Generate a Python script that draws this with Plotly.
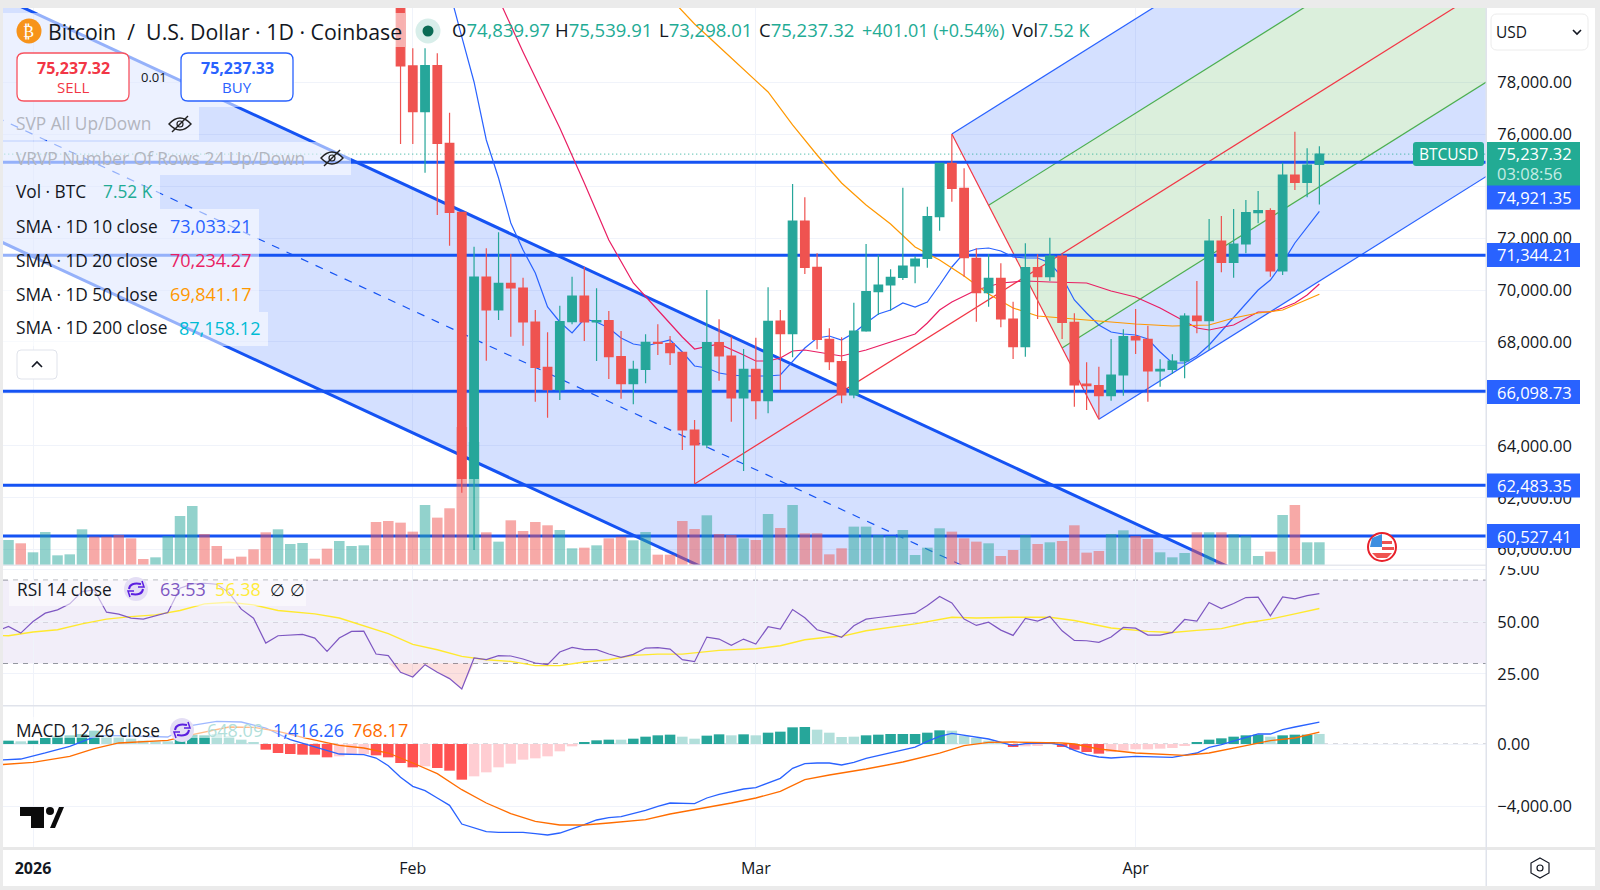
import numpy as np
import pandas as pd
import plotly.graph_objects as go

FONT = "Open Sans"
W, H = 1600, 890
TEAL = "#26a69a"
RED = "#ef5350"
BLUE = "#2962ff"
LINE_BLUE = "#1553f3"
DARK = "#131722"

# candles, Jan 31 -> Apr 16
candle_open = [84100, 78632, 76873, 78645, 75653, 72995, 62748, 70503, 69232, 70259, 70080, 68770, 67024, 66163, 68783,
               69772, 68770, 68822, 67435, 66395, 66947, 67987, 67935, 67602, 64610, 64032, 67974, 67460, 65842, 66947,
               65740, 68809, 68321, 72660, 70876, 68102, 67242, 65958, 68423, 69938, 70195, 70490, 70927, 71222, 72827,
               74882, 73919, 71222, 69900, 70452, 68885, 67820, 70863, 70516, 71312, 68757, 66382, 66318, 65933, 66729,
               68206, 68103, 66883, 66947, 67268, 69002, 68822, 71891, 71069, 71775, 72982, 73059, 70735, 74433, 74151,
               74839.97]
candle_high = [84200, 79312, 79312, 79120, 76834, 72995, 71672, 71608, 72224, 71389, 70478, 69232, 68372, 69399, 70516,
               70901, 70067, 69194, 68423, 67281, 68295, 68680, 68231, 67602, 64995, 70003, 68873, 68205, 67730, 68167,
               70105, 69232, 74086, 73572, 71415, 68526, 68179, 69515, 71775, 71351, 70799, 73944, 71312, 73213, 74882,
               76012, 74689, 71608, 71376, 71030, 69553, 71800, 71376, 72018, 71389, 69104, 67217, 67050, 68116, 68488,
               69271, 68629, 67332, 67525, 69104, 70350, 72738, 72854, 73123, 73470, 73817, 73149, 74908, 76102, 75460,
               75539.91]
candle_low = [75627, 75627, 74523, 72892, 71711, 62195, 59988, 67281, 68847, 68205, 67858, 65701, 65085, 65765, 68680,
              68038, 67268, 66574, 65817, 65598, 66407, 67499, 67114, 63840, 62530, 63903, 66510, 64931, 63030, 65021,
              65252, 66151, 67409, 70619, 67717, 66921, 65637, 65830, 68398, 69040, 69206, 70388, 70259, 70863, 72288,
              73405, 70516, 68783, 69361, 68565, 67345, 67435, 68885, 70349, 68115, 65509, 65381, 65021, 65740, 65933,
              67538, 65702, 66280, 66768, 66601, 68334, 67692, 70684, 70478, 71416, 72571, 70517, 70581, 73855, 73573,
              73298.01]
candle_close = [78632, 76873, 78645, 75653, 72995, 62748, 70503, 69232, 70259, 70080, 68770, 67024, 66163, 68783, 69772,
                68770, 68822, 67435, 66395, 66947, 67987, 67948, 67589, 64610, 64032, 67974, 67460, 65842, 66947, 65740,
                68796, 68321, 72660, 70876, 68102, 67242, 65958, 68423, 69938, 70195, 70490, 70927, 71197, 72827, 74882,
                73919, 71248, 69900, 70452, 68885, 67820, 70863, 70516, 71312, 68757, 66344, 66318, 65933, 66729, 68206,
                68077, 66883, 66947, 67268, 69002, 68822, 71891, 71069, 71775, 72982, 73059, 70735, 74433, 74151, 74818,
                75237.32]

# volume in BTC, Dec 30 -> Apr 16
volume = [8280, 7180, 4200, 10930, 3200, 3530, 11810, 9380, 9380, 9940, 8830, 1990, 2540, 9600, 16230, 19540, 10270,
          6290, 2100, 2760, 5190, 10820, 11810, 6960, 7290, 2100, 5410, 7950, 6290, 6510, 14240, 14570, 14020, 11040,
          19870, 15680, 18770, 45700, 40700, 10820, 7730, 14790, 11260, 14240, 13140, 11590, 5520, 5740, 6510, 8830,
          9380, 8170, 10930, 3420, 3420, 14570, 11920, 16450, 10270, 9940, 8830, 8280, 16890, 12250, 19870, 10490,
          10490, 3530, 5520, 12700, 12700, 9940, 9600, 11590, 3310, 5740, 12140, 11040, 8830, 7730, 7180, 2980, 4970,
          9940, 6960, 7510, 7950, 13140, 4090, 4640, 10270, 11480, 9600, 8610, 4200, 2540, 3970, 10820, 10820, 10820,
          10160, 9720, 2980, 4420, 16560, 19870, 7510, 7520]
volume_side = ("trtttttrrr" "rrttttrrrr" "rrtttrrttt" "rrrrtrrrt" "rtrrrrttrt" "rrttrrr"
               "rtrrtrtrtr" "rrrttttttt" "trrrtrrtrt" "rrrrttrrtt" "trtrtttrtr" "tt")

# moving averages (day number counted from Jan 1)
sma10_days = list(range(33, 106))
sma10 = [82137, 81521, 79749, 78015, 75781, 74317, 72584, 71544, 70658, 69348, 68770, 68347, 68886, 68770, 68539,
         68154, 67923, 67846, 67961, 68077, 67615, 67076, 66998, 66806, 66729, 66690, 66690, 66690, 66729, 67230,
         67769, 68154, 68231, 68077, 68347, 68732, 69079, 69233, 69502, 69348, 69541, 70196, 70889, 71428, 71582,
         71621, 71505, 71274, 71236, 71236, 71043, 70504, 69618, 69117, 68655, 68385, 68308, 68270, 68116, 67615,
         67191, 67191, 67461, 67884, 68424, 68963, 69502, 70003, 70388, 71043, 71813, 72430, 73033.21]
sma20_days = [37, 40, 43, 45, 47, 49, 51, 53, 54, 56, 58, 59, 60, 61, 62, 63, 64, 66, 68, 71, 72, 73, 74, 75, 77, 79,
              81, 83, 86, 88, 90, 92, 94, 95, 96, 98, 100, 101, 102, 103, 104, 105]
sma20 = [82252, 79171, 76243, 74125, 71929, 70273, 69233, 68193, 67730, 67923, 67499, 67268, 67268, 67384, 67653,
         67692, 67615, 67461, 67692, 68154, 68308, 68732, 69233, 69541, 70003, 70273, 70350, 70311, 70273, 69965,
         69733, 69310, 68809, 68539, 68462, 68655, 69156, 69156, 69310, 69502, 69810, 70234.27]
sma50_days = [52, 54, 57, 60, 62, 64, 66, 68, 70, 72, 74, 76, 78, 80, 82, 84, 87, 90, 93, 96, 98, 100, 102, 104, 105]
sma50 = [81251, 80249, 78940, 77630, 76359, 75203, 74125, 73277, 72545, 71659, 71159, 70542, 69849, 69310, 69002,
         68924, 68809, 68693, 68616, 68655, 68924, 69117, 69233, 69618, 69841.17]

hlines = [74921.35, 71344.21, 66098.73, 62483.35, 60527.41]
last_price = 75237.32

# drawings, as (day number, price)
channel_upper = [(0, 80704), (100, 58809)]
channel_mid = [(0, 76000), (100, 54105)]
channel_lower = [(0, 71286), (100, 49391)]
fork_a = (54, 62530)
fork_b = (75, 76012)
fork_c = (87, 65021)

# RSI, Dec 29 -> Apr 16
rsi = [45.4, 47.77, 44.58, 50.16, 54.14, 55.73, 58.6, 64.5, 65.29, 54.62, 53.66, 51.75, 51.27, 52.86, 54.46, 66.09,
       68.16, 68.48, 68.0, 64.02, 56.05, 51.75, 39.8, 43.31, 43.78, 43.94, 42.19, 35.82, 42.19, 45.38, 45.54, 34.55,
       33.75, 25.78, 23.55, 29.45, 25.78, 22.76, 17.82, 32.63, 31.84, 33.75, 33.59, 32.16, 30.25, 29.45, 35.5, 37.73,
       36.62, 36.62, 34.55, 32.95, 34.39, 37.41, 37.57, 36.94, 31.84, 30.88, 42.67, 41.71, 38.69, 41.71, 39.33, 47.61,
       46.49, 55.89, 51.91, 46.17, 44.58, 42.51, 48.09, 51.27, 52.07, 52.86, 53.5, 54.14, 57.8, 62.1, 59.08, 51.27,
       48.25, 49.84, 46.02, 43.47, 51.59, 50.32, 52.55, 45.7, 41.08, 40.92, 40.12, 42.67, 47.29, 46.97, 43.62, 43.62,
       44.9, 51.11, 50.32, 59.24, 56.37, 58.76, 61.63, 61.79, 52.86, 61.95, 61.0, 62.58, 63.53]
rsi_ma_days = [-3, -2, 0, 2, 4, 6, 8, 10, 12, 14, 16, 18, 20, 23, 25, 27, 29, 31, 33, 35, 37, 39, 41, 43, 45, 47, 49,
               51, 53, 56, 59, 61, 63, 65, 66, 68, 70, 72, 75, 77, 80, 83, 85, 88, 91, 93, 95, 97, 99, 101, 103, 105]
rsi_ma = [43.5, 43.3, 45.1, 46.2, 49.0, 51.3, 52.5, 53.3, 55.4, 58.6, 59.4, 58.1, 55.4, 53.8, 51.8, 48.2, 44.3, 39.2,
          36.6, 33.4, 31.8, 31.0, 29.0, 29.0, 30.7, 31.8, 33.9, 34.5, 34.5, 36.3, 37.1, 38.5, 41.4, 42.7, 43.0, 45.7,
          47.3, 49.0, 52.2, 51.8, 52.2, 52.2, 50.6, 47.0, 45.4, 44.9, 45.9, 46.7, 49.4, 51.3, 53.8, 56.38]

# MACD, histogram Dec 30 -> Apr 16
macd_hist = [215, 172, 215, 387, 495, 559, 645, 860, 495, 495, 344, 215, 172, 172, 495, 602, 559, 645, 495, 280, 65,
             -366, -581, -645, -688, -688, -860, -796, -688, -645, -731, -860, -1226, -1505, -1441, -1548, -1720,
             -2301, -2086, -1828, -1505, -1269, -1011, -925, -796, -473, -151, 65, 237, 280, 280, 344, 473, 559, 602,
             473, 344, 538, 624, 559, 624, 559, 731, 796, 1075, 1097, 925, 731, 452, 473, 559, 602, 645, 645, 645,
             731, 882, 860, 538, 387, 215, 108, -194, -151, -108, 65, -194, -366, -516, -624, -516, -430, -344, -344,
             -301, -258, -86, 65, 280, 366, 473, 559, 602, 473, 559, 602, 602, 648.09]
hist_strong = [1, 0, 1, 1, 1, 1, 1, 1, 0, 0, 0, 0, 0, 0, 1, 1, 1, 0, 0, 0, 0,
               1, 1, 1, 1, 1, 1, 0, 0, 0, 1, 1, 1, 1, 0, 1, 1, 1, 0, 0, 0, 0, 0, 0, 0, 0, 0,
               1, 1, 1, 0, 1, 1, 1, 1, 0, 0, 1, 1, 0, 1, 0, 1, 1, 1, 1, 0, 0, 0, 0,
               1, 1, 1, 1, 1, 1, 1, 0, 0, 0, 0, 0, 1, 0, 0, 1, 1, 1, 1, 1,
               0, 0, 0, 0, 0, 0, 0, 1, 1, 1, 1, 1, 1, 0, 1, 1, 1, 0]
macd_days = [-3, -1, 1, 3, 5, 6, 11, 12, 13, 15, 17, 19, 21, 23, 25, 27, 28, 29, 30, 31, 32, 33, 34, 35, 36, 37, 38,
             40, 41, 42, 43, 44, 45, 46, 47, 48, 49, 50, 51, 52, 54, 55, 56, 57, 58, 59, 60, 61, 62, 63, 64, 65, 66,
             67, 68, 69, 71, 72, 73, 74, 75, 77, 78, 80, 81, 83, 84, 85, 86, 87, 88, 90, 93, 95, 96, 97, 99, 100, 101,
             102, 103, 104, 105]
macd_line = [-1054, -968, -580, -150, 452, 559, 452, 882, 1204, 1462, 1419, 1032, 280, -194, -645, -688, -903, -1398,
             -2150, -2731, -3010, -3483, -3956, -5160, -5418, -5655, -5698, -5698, -5784, -5870, -5741, -5483, -5203,
             -4902, -4752, -4687, -4494, -4279, -4021, -3806, -3849, -3483, -3247, -3075, -2903, -2817, -2516, -2215,
             -1570, -1269, -1226, -1226, -1355, -1183, -925, -752, -366, -194, 172, 495, 688, 452, 322, -108, 22, 65,
             -65, -409, -688, -838, -903, -796, -860, -581, -215, -43, 387, 645, 645, 925, 1097, 1247, 1416.26]
signal_days = [-3, 0, 3, 5, 7, 9, 11, 13, 16, 18, 20, 22, 25, 27, 29, 31, 33, 35, 37, 39, 41, 43, 45, 47, 50, 52, 54,
               57, 59, 61, 63, 65, 68, 71, 74, 76, 78, 80, 84, 85, 87, 90, 94, 96, 99, 101, 103, 105]
signal_line = [-1355, -1183, -795, -301, 65, 129, 236, 602, 1097, 1075, 817, 430, -86, -258, -581, -1226, -1914,
               -2946, -3806, -4494, -4988, -5225, -5225, -5096, -4881, -4515, -4236, -3806, -3483, -3053, -2301,
               -2000, -1613, -1161, -581, -108, 108, 129, 65, 0, -322, -581, -731, -581, -108, 215, 387, 768.17]

price_ticks = list(range(60000, 80000, 2000))
price_range = [59410, 80865]
month_ticks = ["2026-01-01", "2026-02-01", "2026-03-01", "2026-04-01"]
month_labels = ["<b>2026</b>", "Feb", "Mar", "Apr"]

JAN1 = pd.Timestamp("2026-01-01")


def day(n):
    return JAN1 + pd.Timedelta(days=n)


def X(px):
    return px / W


def Y(py):
    return 1 - py / H


def rounded(x0, y0, x1, y1, r):
    return (f"M {X(x0 + r)},{Y(y0)} L {X(x1 - r)},{Y(y0)} Q {X(x1)},{Y(y0)} {X(x1)},{Y(y0 + r)} "
            f"L {X(x1)},{Y(y1 - r)} Q {X(x1)},{Y(y1)} {X(x1 - r)},{Y(y1)} L {X(x0 + r)},{Y(y1)} "
            f"Q {X(x0)},{Y(y1)} {X(x0)},{Y(y1 - r)} L {X(x0)},{Y(y0 + r)} Q {X(x0)},{Y(y0)} {X(x0 + r)},{Y(y0)} Z")


def poly(pts, close=True):
    s = "M " + " L ".join(f"{X(a)},{Y(b)}" for a, b in pts)
    return s + (" Z" if close else "")


def box(x0, y0, x1, y1, fill, line=None, width=0, layer="above"):
    return dict(type="rect", xref="paper", yref="paper", x0=X(x0), x1=X(x1), y0=Y(y1), y1=Y(y0),
                fillcolor=fill, line=dict(color=line or "rgba(0,0,0,0)", width=width), layer=layer)


def rbox(x0, y0, x1, y1, r, fill, line=None, width=0):
    return dict(type="path", xref="paper", yref="paper", path=rounded(x0, y0, x1, y1, r), fillcolor=fill,
                line=dict(color=line or "rgba(0,0,0,0)", width=width), layer="above")


def ring(cx, cy, r, fill="rgba(0,0,0,0)", line=None, width=0):
    return dict(type="circle", xref="paper", yref="paper", x0=X(cx - r), x1=X(cx + r), y0=Y(cy + r), y1=Y(cy - r),
                fillcolor=fill, line=dict(color=line or "rgba(0,0,0,0)", width=width), layer="above")


def stroke(pts, color, width=1.5, close=False, fill="rgba(0,0,0,0)"):
    return dict(type="path", xref="paper", yref="paper", path=poly(pts, close), fillcolor=fill,
                line=dict(color=color, width=width), layer="above")


def txt(px, py, text, size=16, color=DARK, anchor="left", family=FONT):
    # annotations carry about 2px of inner padding
    if anchor == "left":
        px -= 2
    return dict(x=X(px), y=Y(py), xref="paper", yref="paper", text=text, showarrow=False, xanchor=anchor,
                yanchor="middle", align=anchor, font=dict(family=family, size=size, color=color))


def eye(cx, cy):
    out = [dict(type="path", xref="paper", yref="paper", layer="above", line=dict(color="#222", width=1.4),
                path=(f"M {X(cx - 11)},{Y(cy)} Q {X(cx)},{Y(cy - 12)} {X(cx + 11)},{Y(cy)} "
                      f"Q {X(cx)},{Y(cy + 12)} {X(cx - 11)},{Y(cy)} Z"))]
    out.append(stroke([(cx - 8, cy + 8), (cx + 8, cy - 8)], "#222", 1.4))
    out.append(ring(cx, cy, 3, line="#222", width=1.2))
    return out


def refresh(cx, cy):
    out = [ring(cx, cy, 12, fill="#e4def5")]
    out.append(dict(type="path", xref="paper", yref="paper", layer="above", line=dict(color="#5b1fe0", width=2),
                    path=(f"M {X(cx - 7)},{Y(cy)} Q {X(cx - 6)},{Y(cy - 7)} {X(cx + 5)},{Y(cy - 5)} "
                          f"M {X(cx + 7)},{Y(cy)} Q {X(cx + 6)},{Y(cy + 7)} {X(cx - 5)},{Y(cy + 5)}")))
    out.append(stroke([(cx + 2, cy - 2), (cx + 8, cy - 2), (cx + 6, cy - 8)], "#5b1fe0", 1.5))
    out.append(stroke([(cx - 2, cy + 2), (cx - 8, cy + 2), (cx - 6, cy + 8)], "#5b1fe0", 1.5))
    return out


def ray(p, q, to_day):
    # extends p->q out to to_day
    slope = (q[1] - p[1]) / (q[0] - p[0])
    return (to_day, p[1] + slope * (to_day - p[0]))


def seg(pts, color, width=1.0, dash=None):
    return go.Scatter(x=[day(a) for a, b in pts], y=[b for a, b in pts], mode="lines", yaxis="y",
                      line=dict(color=color, width=width, dash=dash), hoverinfo="skip", showlegend=False)


def area(pts, fill):
    return go.Scatter(x=[day(a) for a, b in pts], y=[b for a, b in pts], mode="lines", yaxis="y", fill="toself",
                      fillcolor=fill, line=dict(width=0), hoverinfo="skip", showlegend=False)


fig = go.Figure()
x_left, x_right = day(-2.449), day(118.6)
FAR = 130

# descending channel
fig.add_trace(area([(-3, ray(*channel_upper, -3)[1]), (FAR, ray(*channel_upper, FAR)[1]),
                    (FAR, ray(*channel_lower, FAR)[1]), (-3, ray(*channel_lower, -3)[1])], "rgba(41,98,255,0.2)"))

# pitchfork, built from its three points
mid_bc = ((fork_b[0] + fork_c[0]) / 2, (fork_b[1] + fork_c[1]) / 2)
slope = (mid_bc[1] - fork_a[1]) / (mid_bc[0] - fork_a[0])


def on_bc(t):
    return (fork_b[0] + (fork_c[0] - fork_b[0]) * t, fork_b[1] + (fork_c[1] - fork_b[1]) * t)


def fork_end(p):
    return (FAR, p[1] + slope * (FAR - p[0]))


g_up, g_dn = on_bc(0.25), on_bc(0.75)
fig.add_trace(area([fork_b, fork_end(fork_b), fork_end(g_up), g_up], "rgba(41,98,255,0.2)"))
fig.add_trace(area([g_up, fork_end(g_up), fork_end(g_dn), g_dn], "rgba(76,175,80,0.2)"))
fig.add_trace(area([g_dn, fork_end(g_dn), fork_end(fork_c), fork_c], "rgba(41,98,255,0.2)"))
fig.add_trace(seg([fork_b, fork_end(fork_b)], BLUE, 1.2))
fig.add_trace(seg([fork_c, fork_end(fork_c)], BLUE, 1.2))
fig.add_trace(seg([g_up, fork_end(g_up)], "#4caf50", 1.2))
fig.add_trace(seg([g_dn, fork_end(g_dn)], "#4caf50", 1.2))
fig.add_trace(seg([fork_a, fork_end(fork_a)], "#f23645", 1.2))
fig.add_trace(seg([fork_b, fork_c], "#f23645", 1.2))

# channel lines
fig.add_trace(seg([(-3, ray(*channel_upper, -3)[1]), (FAR, ray(*channel_upper, FAR)[1])], LINE_BLUE, 3))
fig.add_trace(seg([(-3, ray(*channel_lower, -3)[1]), (FAR, ray(*channel_lower, FAR)[1])], LINE_BLUE, 3))
fig.add_trace(seg([(-3, ray(*channel_mid, -3)[1]), (FAR, ray(*channel_mid, FAR)[1])], LINE_BLUE, 1.2, "8px,8px"))

# horizontal levels and last price
for lv in hlines:
    fig.add_trace(seg([(-3, lv), (FAR, lv)], LINE_BLUE, 3))
fig.add_trace(seg([(-3, last_price), (FAR, last_price)], "#22ab94", 1.0, "1px,3px"))

# moving averages
fig.add_trace(seg(list(zip(sma10_days, sma10)), BLUE, 1.2))
fig.add_trace(seg(list(zip(sma20_days, sma20)), "#e91e63", 1.2))
fig.add_trace(seg(list(zip(sma50_days, sma50)), "#ff9800", 1.2))

# volume
vol_x = [day(i - 2) for i in range(len(volume))]
fig.add_trace(go.Bar(x=vol_x, y=volume, yaxis="y2", width=86400000 * 0.86, showlegend=False, hoverinfo="skip",
                     marker=dict(color=[TEAL if s == "t" else RED for s in volume_side], opacity=0.5,
                                 line=dict(width=0))))

# candles
candle_x = pd.date_range("2026-01-31", periods=len(candle_open), freq="D")
fig.add_trace(go.Candlestick(x=candle_x, open=candle_open, high=candle_high, low=candle_low, close=candle_close,
                             yaxis="y3", whiskerwidth=0, showlegend=False,
                             increasing=dict(line=dict(color=TEAL, width=1.2), fillcolor=TEAL),
                             decreasing=dict(line=dict(color=RED, width=1.2), fillcolor=RED)))

# RSI pane
rsi_x = [day(i - 3) for i in range(len(rsi))]
fig.add_trace(go.Scatter(x=rsi_x, y=[30] * len(rsi), yaxis="y4", mode="lines", line=dict(width=0),
                         hoverinfo="skip", showlegend=False))
fig.add_trace(go.Scatter(x=rsi_x, y=np.minimum(rsi, 30), yaxis="y4", mode="lines", line=dict(width=0), fill="tonexty",
                         fillcolor="rgba(239,83,80,0.18)", hoverinfo="skip", showlegend=False))
fig.add_trace(go.Scatter(x=[day(d) for d in rsi_ma_days], y=rsi_ma, yaxis="y4", mode="lines",
                         line=dict(color="#ffe92e", width=1.4), hoverinfo="skip", showlegend=False))
fig.add_trace(go.Scatter(x=rsi_x, y=rsi, yaxis="y4", mode="lines", line=dict(color="#7e57c2", width=1.2),
                         hoverinfo="skip", showlegend=False))

# MACD pane
hist_colors = []
for v, strong in zip(macd_hist, hist_strong):
    if v >= 0:
        hist_colors.append(TEAL if strong else "#b2dfdb")
    else:
        hist_colors.append("#ff5252" if strong else "#ffcdd2")
fig.add_trace(go.Bar(x=vol_x, y=macd_hist, yaxis="y5", width=86400000 * 0.86, showlegend=False, hoverinfo="skip",
                     marker=dict(color=hist_colors, line=dict(width=0))))
fig.add_trace(go.Scatter(x=[day(d) for d in macd_days], y=macd_line, yaxis="y5", mode="lines",
                         line=dict(color=BLUE, width=1.3), hoverinfo="skip", showlegend=False))
fig.add_trace(go.Scatter(x=[day(d) for d in signal_days], y=signal_line, yaxis="y5", mode="lines",
                         line=dict(color="#ff6d00", width=1.3), hoverinfo="skip", showlegend=False))

# page and pane furniture
shapes = [box(3, 8, 1595, 886, "white", layer="below")]
pane_l, pane_r = X(3), X(1486)
shapes.append(dict(type="rect", xref="paper", yref="y4", x0=pane_l, x1=pane_r, y0=30, y1=70, layer="below",
                   fillcolor="rgba(126,87,194,0.1)", line=dict(width=0)))
for lv in [70, 50, 30]:
    shapes.append(dict(type="line", xref="paper", yref="y4", x0=pane_l, x1=pane_r, y0=lv, y1=lv, layer="below",
                       line=dict(color="#9598a1", width=1, dash="5px,5px")))
shapes.append(dict(type="line", xref="paper", yref="y5", x0=pane_l, x1=pane_r, y0=0, y1=0, layer="below",
                   line=dict(color="#b2b5be", width=1, dash="5px,5px")))

# legend backdrops over the chart
veil = "rgba(255,255,255,0.55)"
for r in [(3, 13, 405, 47), (3, 47, 295, 107), (3, 107, 199, 140), (3, 142, 351, 175), (3, 175, 160, 209),
          (3, 209, 259, 312), (3, 312, 268, 346), (9, 580, 306, 606), (9, 717, 408, 738)]:
    shapes.append(box(*r, veil))

# hide the clipped top of the RSI scale
shapes.append(box(1487, 560, 1595, 566, "white"))
# pane borders
shapes.append(box(3, 564.5, 1486, 566, "#e6e8ee"))
shapes.append(box(3, 705, 1486, 706.5, "#e0e3eb"))
shapes.append(box(3, 847, 1595, 850, "#e8e8e8"))
shapes.append(box(1485.5, 8, 1487, 886, "#e0e3eb"))

# order buttons
shapes.append(rbox(17, 53, 129, 101, 7, "white", "#f7525f", 1.3))
shapes.append(rbox(181, 53, 293, 101, 7, "white", BLUE, 1.3))
shapes.append(rbox(17, 350, 57, 379, 4, "white", "#e0e3eb", 1))
shapes.append(stroke([(32, 367), (37, 362), (42, 367)], DARK, 1.6))

# symbol logo and market dot
shapes.append(ring(29, 31, 12.5, fill="#f7931a"))
shapes.append(ring(428, 31, 12.5, fill="#d8eeea"))
shapes.append(ring(428, 31, 5.5, fill="#0a6b55"))
shapes += eye(180, 124)
shapes += eye(332, 158)
shapes += refresh(136, 589)
shapes += refresh(182, 730)

# price tags
shapes.append(rbox(1413, 142, 1484, 166, 3, "#22ab94"))
shapes.append(box(1487, 142, 1580, 186, "#22ab94"))
tag_centres = [(74921.35, 197.5), (71344.21, 255), (66098.73, 392), (62483.35, 485.5), (60527.41, 536)]
for _, cy in tag_centres:
    shapes.append(box(1487, cy - 12, 1580, cy + 12, BLUE))

# currency selector and corner icons
shapes.append(rbox(1491, 14, 1588, 50, 6, "white", "#ececec", 1))
shapes.append(stroke([(1573, 30), (1577, 34), (1581, 30)], DARK, 1.6))
shapes.append(stroke([(1540, 858), (1549, 863), (1549, 873), (1540, 878), (1531, 873), (1531, 863)], DARK, 1.2,
                     close=True))
shapes.append(ring(1540, 868, 3, line=DARK, width=1.2))

# TradingView mark
shapes.append(dict(type="path", xref="paper", yref="paper", layer="above", fillcolor="#0b0b0b", line=dict(width=0),
                   path=poly([(20, 807), (44, 807), (44, 828), (31, 828), (31, 816), (20, 816)])))
shapes.append(dict(type="path", xref="paper", yref="paper", layer="above", fillcolor="#0b0b0b", line=dict(width=0),
                   path=poly([(50, 828), (59, 807), (64, 807), (55, 828)])))
shapes.append(ring(50, 811, 4, fill="#0b0b0b"))

# US flag event marker
shapes.append(ring(1382, 547, 14, fill="white", line="#e8202a", width=2))
shapes.append(dict(type="path", xref="paper", yref="paper", layer="above", fillcolor="#3d8fe0", line=dict(width=0),
                   path=poly([(1372, 538), (1382, 534), (1382, 547), (1370, 547)])))
shapes.append(box(1382, 541, 1392, 544, "#ef5350"))
shapes.append(box(1382, 547, 1394, 550, "#ef5350"))
shapes.append(dict(type="path", xref="paper", yref="paper", layer="above", fillcolor="#ef5350", line=dict(width=0),
                   path=poly([(1372, 553), (1392, 553), (1387, 558), (1377, 558)])))

# texts
ann = [
    txt(29, 31, "₿", 16, "white", "center", "DejaVu Sans"),
    txt(48, 31, "Bitcoin  /  U.S. Dollar · 1D · Coinbase", 21.3),
    txt(73, 68, "<b>75,237.32</b>", 16, "#f23645", "center"),
    txt(73, 87, "SELL", 15, "#f23645", "center"),
    txt(154, 77, "0.01", 13, DARK, "center"),
    txt(237, 68, "<b>75,237.33</b>", 16, BLUE, "center"),
    txt(237, 87, "BUY", 15, BLUE, "center"),
    txt(16, 124, "SVP All Up/Down", 17.3, "#b2b5be"),
    txt(16, 158, "VRVP Number Of Rows 24 Up/Down", 17.3, "#b2b5be"),
    txt(16, 192, "Vol · BTC", 17.3),
    txt(103, 192, "7.52 K", 17.3, "#22ab94"),
    txt(16, 226, "SMA · 1D 10 close", 17.3),
    txt(170, 226, "73,033.21", 18, BLUE),
    txt(16, 260, "SMA · 1D 20 close", 17.3),
    txt(170, 260, "70,234.27", 18, "#e91e63"),
    txt(16, 294, "SMA · 1D 50 close", 17.3),
    txt(170, 294, "69,841.17", 18, "#ff9800"),
    txt(16, 328, "SMA · 1D 200 close", 17.3),
    txt(179, 328, "87,158.12", 18, "#00bcd4"),
    txt(17, 589, "RSI 14 close", 17.3),
    txt(160, 589, "63.53", 18, "#7e57c2"),
    txt(215, 589, "56.38", 18, "#ffeb3b"),
    txt(270, 589, "∅", 17.3),
    txt(290, 589, "∅", 17.3),
    txt(16, 730, "MACD 12 26 close", 17.3),
    txt(207, 730, "648.09", 18, "#b2dfdb"),
    txt(273, 730, "1,416.26", 18, BLUE),
    txt(352, 730, "768.17", 18, "#ff6d00"),
    txt(1448, 154, "BTCUSD", 15.5, "white", "center"),
    txt(1497, 153, "75,237.32", 16.5, "white"),
    txt(1497, 173, "03:08:56", 16.5, "#c5ebe4"),
    txt(1496, 32, "USD", 15.5),
]
for label, x_pos, val in [("O", 452, "74,839.97"), ("H", 555, "75,539.91"), ("L", 659, "73,298.01"),
                          ("C", 759, "75,237.32")]:
    ann.append(txt(x_pos, 30, f"{label}<span style='color:#22ab94'>{val}</span>", 18.5))
ann.append(txt(862, 30, "+401.01 (+0.54%)", 18, "#22ab94"))
ann.append(txt(1012, 30, "Vol<span style='color:#22ab94'>7.52 K</span>", 18))
for val, cy in tag_centres:
    ann.append(txt(1497, cy, f"{val:,.2f}", 16.5, "white"))

scale_font = dict(family=FONT, size=16.5, color=DARK)
scale = dict(side="right", anchor="x", showline=False, zeroline=False, ticks="outside", ticklen=7,
             tickcolor="rgba(0,0,0,0)", tickfont=scale_font, gridcolor="#f0f3fa", gridwidth=1, fixedrange=True)

fig.update_layout(
    width=W,
    height=H,
    autosize=False,
    margin=dict(l=0, r=0, t=0, b=0, pad=0, autoexpand=False),
    paper_bgcolor="#ebebeb",
    plot_bgcolor="white",
    showlegend=False,
    barmode="overlay",
    boxgap=0.3,
    boxgroupgap=0,
    hovermode=False,
    shapes=shapes,
    annotations=ann,
    xaxis=dict(type="date", domain=[pane_l, pane_r], range=[x_left, x_right], anchor="y5", tickvals=month_ticks,
               ticktext=month_labels, ticks="outside", ticklen=6, tickcolor="rgba(0,0,0,0)",
               tickfont=dict(family=FONT, size=16, color=DARK), showgrid=True, gridcolor="#f0f3fa",
               rangeslider=dict(visible=False), showline=False, zeroline=False, fixedrange=True),
    yaxis=dict(domain=[Y(565), Y(8)], range=price_range, tickvals=price_ticks, tickformat=",.2f", **scale),
    yaxis2=dict(overlaying="y", range=[0, 184367], visible=False, fixedrange=True),
    yaxis3=dict(overlaying="y", range=price_range, visible=False, fixedrange=True),
    yaxis4=dict(domain=[Y(705), Y(566)], range=[10.1, 76.76], tickvals=[25, 50, 75], tickformat=".2f", **scale),
    yaxis5=dict(domain=[Y(848), Y(706)], range=[-6708, 2451], tickvals=[-4000, 0],
                ticktext=["−4,000.00", "0.00"], **scale),
)

# the page body has a default 8px margin, which would push the chart off the window
fig.write_html("out.html", config=dict(displayModeBar=False), post_script="document.body.style.margin='0';")
